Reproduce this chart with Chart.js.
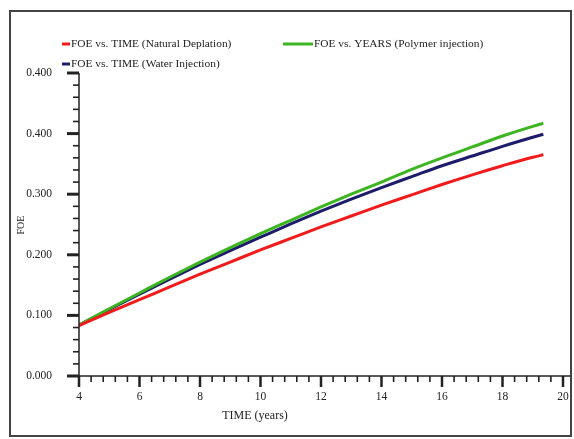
<!DOCTYPE html>
<html>
<head>
<meta charset="utf-8">
<script src="https://cdn.jsdelivr.net/npm/chart.js@4"></script>
<style>
    body { margin: 0; background: #fff; }
    canvas { display: block; }
</style>
</head>
<body>
<canvas id="chartFOE" width="574" height="439"></canvas>
<script>
// values
const years = [4, 5, 6, 7, 8, 9, 10, 11, 12, 13, 14, 15, 16, 17, 18, 19, 19.35];
const naturalDepletion = [0.083, 0.105, 0.126, 0.147, 0.168, 0.188, 0.208, 0.227, 0.246, 0.264, 0.282, 0.299, 0.316, 0.332, 0.347, 0.361, 0.365];
const waterInjection = [0.084, 0.110, 0.135, 0.160, 0.184, 0.207, 0.229, 0.251, 0.272, 0.292, 0.311, 0.329, 0.347, 0.363, 0.379, 0.394, 0.399];
const polymerInjection = [0.084, 0.111, 0.137, 0.163, 0.188, 0.212, 0.235, 0.257, 0.279, 0.300, 0.320, 0.341, 0.360, 0.378, 0.396, 0.412, 0.417];

const seriesLabels = [
    "FOE vs. TIME (Natural Deplation)",
    "FOE vs. YEARS (Polymer injection)",
    "FOE vs. TIME (Water Injection)"
];
const xTickLabels = ["4", "6", "8", "10", "12", "14", "16", "18", "20"];
const yTickLabels = ["0.000", "0.100", "0.200", "0.300", "0.400", "0.400"];

const SERIF = "'Liberation Serif', 'Times New Roman', serif";
const INK = "#222";

function toPoints(vals) {
    return years.map((t, i) => ({ x: t, y: vals[i] }));
}

// axis lines, major/minor ticks, axis titles, legend, frame
const decorPlugin = {
    id: "decor",
    afterDraw(chart) {
        const ctx = chart.ctx;
        const xs = chart.scales.x;
        const ys = chart.scales.y;
        const x0 = xs.getPixelForValue(4);
        const y0 = ys.getPixelForValue(0);

        ctx.save();
        ctx.strokeStyle = INK;

        // axis lines
        ctx.lineWidth = 1.5;
        ctx.beginPath();
        ctx.moveTo(x0, ys.getPixelForValue(0.5));
        ctx.lineTo(x0, y0);
        ctx.lineTo(570, y0);
        ctx.stroke();

        // y ticks every 0.02, major every 0.1
        for (let i = 0; i <= 25; i++) {
            const major = i % 5 === 0;
            const py = ys.getPixelForValue(i * 0.02);
            ctx.lineWidth = major ? 3 : 1.6;
            ctx.beginPath();
            ctx.moveTo(x0 - (major ? 12 : 6), py);
            ctx.lineTo(x0, py);
            ctx.stroke();
        }

        // x ticks every 0.4, major every 2
        for (let i = 0; i <= 40; i++) {
            const major = i % 5 === 0;
            const px = xs.getPixelForValue(4 + i * 0.4);
            ctx.lineWidth = major ? 2.5 : 1.6;
            ctx.beginPath();
            ctx.moveTo(px, y0);
            ctx.lineTo(px, y0 + (major ? 11 : 6));
            ctx.stroke();
        }

        // axis titles
        ctx.fillStyle = INK;
        ctx.textBaseline = "middle";
        ctx.textAlign = "center";
        ctx.font = "12px " + SERIF;
        ctx.fillText("TIME (years)", 255, 416);

        ctx.save();
        ctx.translate(21, 225);
        ctx.rotate(-Math.PI / 2);
        ctx.font = "10px " + SERIF;
        ctx.fillText("FOE", 0, 0);
        ctx.restore();

        // legend
        const spots = [
            { x1: 62, x2: 70, y: 44 },
            { x1: 283, x2: 313, y: 44 },
            { x1: 62, x2: 70, y: 64 }
        ];
        ctx.textAlign = "left";
        ctx.font = "11.4px " + SERIF;
        chart.data.datasets.forEach((ds, i) => {
            const s = spots[i];
            ctx.strokeStyle = ds.borderColor;
            ctx.lineWidth = 3;
            ctx.beginPath();
            ctx.moveTo(s.x1, s.y);
            ctx.lineTo(s.x2, s.y);
            ctx.stroke();
            ctx.fillStyle = INK;
            ctx.fillText(ds.label, s.x2 + 1, s.y);
        });

        // outer frame
        ctx.strokeStyle = "#444";
        ctx.lineWidth = 2;
        ctx.strokeRect(10, 11, 561, 425);
        ctx.restore();
    }
};

new Chart(document.getElementById("chartFOE"), {
    type: "line",
    data: {
        datasets: [
            { label: seriesLabels[0], data: toPoints(naturalDepletion), borderColor: "#f21b1b" },
            { label: seriesLabels[1], data: toPoints(polymerInjection), borderColor: "#3cb521" },
            { label: seriesLabels[2], data: toPoints(waterInjection), borderColor: "#1c1c6b" }
        ]
    },
    options: {
        responsive: false,
        animation: false,
        layout: { padding: { top: 73, right: 11, left: 0, bottom: 0 } },
        elements: {
            point: { radius: 0 },
            line: { borderWidth: 3, cubicInterpolationMode: "monotone" }
        },
        plugins: {
            legend: { display: false },
            tooltip: { enabled: false }
        },
        scales: {
            x: {
                type: "linear",
                min: 4,
                max: 20,
                border: { display: false },
                grid: { display: false, drawTicks: false },
                afterFit: s => {
                    s.height = 63;
                    s.paddingLeft = 0;
                    s.paddingRight = 0;
                },
                ticks: {
                    stepSize: 2,
                    padding: 14,
                    color: INK,
                    font: { family: SERIF, size: 11.5 },
                    callback: (v, i) => xTickLabels[i]
                }
            },
            y: {
                min: 0,
                max: 0.5,
                border: { display: false },
                grid: { display: false, drawTicks: false },
                afterFit: s => { s.width = 79; },
                ticks: {
                    stepSize: 0.1,
                    padding: 27,
                    color: INK,
                    font: { family: SERIF, size: 11.5 },
                    callback: (v, i) => yTickLabels[i]
                }
            }
        }
    },
    plugins: [decorPlugin]
});
</script>
</body>
</html>
